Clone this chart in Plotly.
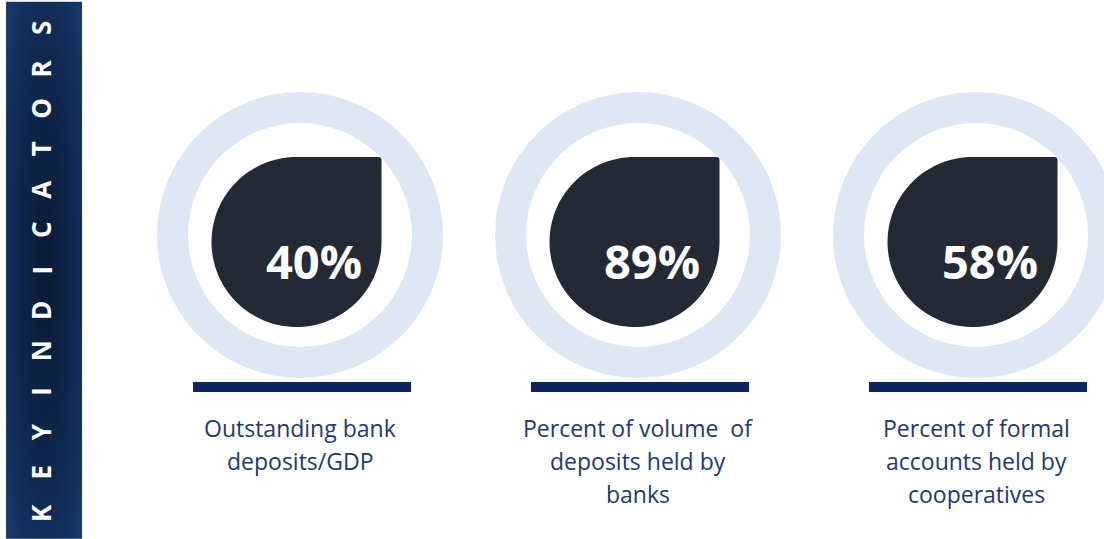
import numpy as np
import plotly.graph_objects as go

# Key indicator values and their captions
values = [40, 89, 58]
captions = [
    ["Outstanding bank", "deposits/GDP"],
    ["Percent of volume\u00a0 of", "deposits held by", "banks"],
    ["Percent of formal", "accounts held by", "cooperatives"],
]
side_title = "KEYINDICATORS"

W, H = 1104, 539
centers_x = [300, 638, 976]
center_y = 235
ring_outer, ring_inner = 143, 112
drop_r = 85
drop_dx, drop_dy = -3.5, 7

RING = "#dde8f4"
DROP = "#232a36"
BAR = "#0c2461"
LABEL = "#22396f"

fig = go.Figure()

# Sidebar with a soft radial shading
sx = np.linspace(7, 81, 40)
sy = np.linspace(4, 539, 120)
XX, YY = np.meshgrid(sx, sy)
zz = np.sqrt(((XX - 44) / 40) ** 2 + ((YY - 270) / 285) ** 2)
fig.add_trace(go.Heatmap(
    x=sx, y=sy, z=zz, zsmooth="best", showscale=False, hoverinfo="skip",
    colorscale=[[0, "#0a1a35"], [0.6, "#102a52"], [1, "#183a6b"]],
))


def drop_path(cx, cy, r, corner=3):
    # three-quarter circle with a square top-right corner
    t = np.linspace(0, 1.5 * np.pi, 90)
    xs = cx + r * np.cos(t)
    ys = cy + r * np.sin(t)
    pts = [f"{x:.2f},{y:.2f}" for x, y in zip(xs, ys)]
    path = "M " + " L ".join(pts)
    path += f" L {cx + r - corner:.2f},{cy - r:.2f}"
    path += f" Q {cx + r:.2f},{cy - r:.2f} {cx + r:.2f},{cy - r + corner:.2f} Z"
    return path


shapes = []
annotations = []
for i, (cx, v) in enumerate(zip(centers_x, values)):
    shapes.append(dict(type="circle", xref="x", yref="y",
                       x0=cx - ring_outer, x1=cx + ring_outer,
                       y0=center_y - ring_outer, y1=center_y + ring_outer,
                       fillcolor=RING, line_width=0, layer="above"))
    shapes.append(dict(type="circle", xref="x", yref="y",
                       x0=cx - ring_inner, x1=cx + ring_inner,
                       y0=center_y - ring_inner, y1=center_y + ring_inner,
                       fillcolor="white", line_width=0, layer="above"))
    dcx, dcy = cx + drop_dx, center_y + drop_dy
    shapes.append(dict(type="path", xref="x", yref="y",
                       path=drop_path(dcx, dcy, drop_r),
                       fillcolor=DROP, line_width=0, layer="above"))
    shapes.append(dict(type="rect", xref="x", yref="y",
                       x0=cx - 107, x1=cx + 111, y0=382, y1=392,
                       fillcolor=BAR, line_width=0, layer="above"))
    annotations.append(dict(x=dcx + 17, y=dcy + 19, xref="x", yref="y",
                            text=f"<b>{v}%</b>", showarrow=False,
                            xanchor="center", yanchor="middle",
                            font=dict(family="Open Sans", size=47, color="white")))
    for j, line in enumerate(captions[i]):
        annotations.append(dict(x=cx, y=428 + 33 * j, xref="x", yref="y",
                                text=line, showarrow=False,
                                xanchor="center", yanchor="middle",
                                font=dict(family="Open Sans", size=23, color=LABEL)))

# Vertical title, one letter at a time reading bottom to top
n = len(side_title)
for k, ch in enumerate(side_title):
    y = 513 - k * (513 - 28) / (n - 1)
    annotations.append(dict(x=41, y=y, xref="x", yref="y", text=f"<b>{ch}</b>",
                            showarrow=False, textangle=-90,
                            xanchor="center", yanchor="middle",
                            font=dict(family="Open Sans", size=26, color="white")))

fig.update_layout(
    width=W, height=H, margin=dict(l=0, r=0, t=0, b=0),
    paper_bgcolor="white", plot_bgcolor="white",
    xaxis=dict(range=[0, W], visible=False, fixedrange=True),
    yaxis=dict(range=[H, 0], visible=False, fixedrange=True),
    shapes=shapes, annotations=annotations, showlegend=False,
)

fig.write_html("out.html", config={"displayModeBar": False})
